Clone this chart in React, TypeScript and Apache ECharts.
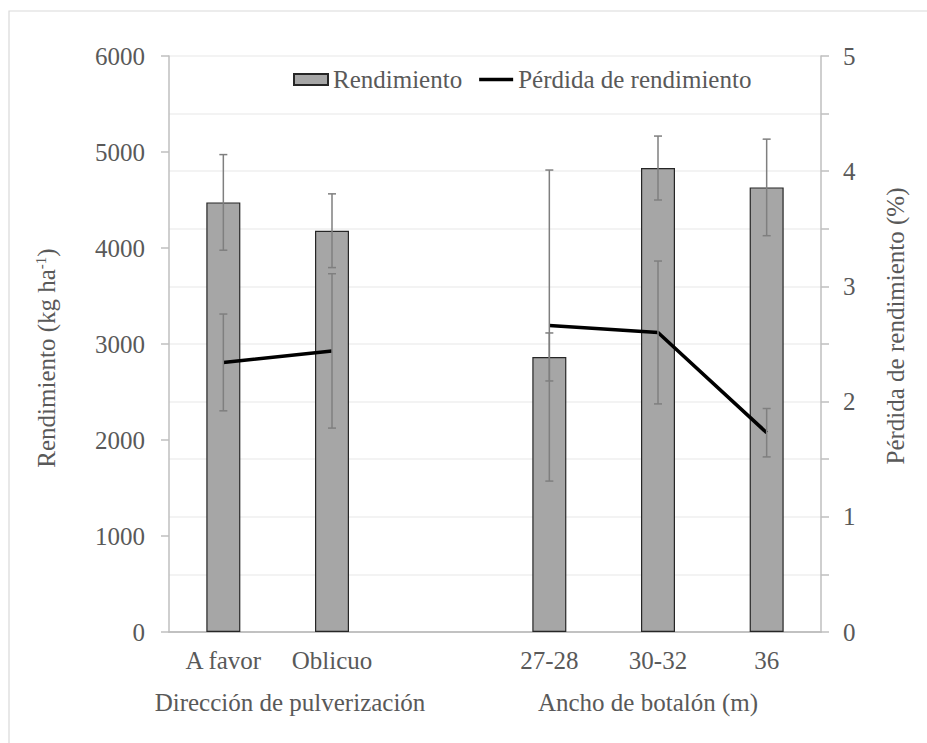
import React, { useEffect, useRef } from "react";
import * as echarts from "echarts";

const categories = ["A favor", "Oblicuo", "", "27-28", "30-32", "36"];
const rendimiento = [4475, 4180, null, 2865, 4833, 4631];
const rendimientoErr = [498, 384, null, 250, 333, 503];
const perdida = [2.34, 2.44, null, 2.66, 2.6, 1.73];
const perdidaErr = [0.42, 0.67, null, 1.35, 0.62, 0.21];
const leftTicks = { min: 0, max: 6000, interval: 1000 };
const rightTicks = { min: 0, max: 5, interval: 0.5 };
const groupLabels = ["Dirección de pulverización", "Ancho de botalón (m)"];

const FONT = "Liberation Serif";
const TXT = "#595959";
const AXIS = "#bfbfbf";

function errData(vals: (number | null)[], errs: (number | null)[]) {
  const out: number[][] = [];
  vals.forEach((v, i) => {
    const e = errs[i];
    if (v !== null && e !== null) out.push([i, v - e, v + e]);
  });
  return out;
}

function errRender(params: any, api: any) {
  const x = api.value(0);
  const lo = api.coord([x, api.value(1)]);
  const hi = api.coord([x, api.value(2)]);
  const cap = 4;
  const st = { stroke: "#7f7f7f", lineWidth: 1.5 };
  return {
    type: "group",
    children: [
      { type: "line", shape: { x1: lo[0], y1: lo[1], x2: hi[0], y2: hi[1] }, style: st },
      { type: "line", shape: { x1: lo[0] - cap, y1: lo[1], x2: lo[0] + cap, y2: lo[1] }, style: st },
      { type: "line", shape: { x1: hi[0] - cap, y1: hi[1], x2: hi[0] + cap, y2: hi[1] }, style: st },
    ],
  };
}

function centeredText(text: string, x: number, y: number, rotation = 0) {
  return {
    type: "text",
    x,
    y,
    rotation,
    style: {
      text,
      fontSize: 25,
      fontFamily: FONT,
      fill: TXT,
      align: "center",
      verticalAlign: "middle",
      textAlign: "center",
      textVerticalAlign: "middle",
    },
  };
}

export default function App() {
  const ref = useRef<HTMLDivElement>(null);
  useEffect(() => {
    if (!ref.current) return;
    const chart = echarts.init(ref.current, null, { renderer: "svg" });
    chart.setOption({
      animation: false,
      backgroundColor: "#ffffff",
      textStyle: { fontFamily: FONT },
      grid: { left: 169, right: 106, top: 56, bottom: 111, containLabel: false },
      legend: {
        left: 288,
        top: 62,
        itemWidth: 34,
        itemHeight: 11,
        itemGap: 17,
        symbolKeepAspect: true,
        textStyle: { fontSize: 25, color: TXT, fontFamily: FONT },
        data: [
          { name: "Rendimiento", icon: "rect" },
          { name: "Pérdida de rendimiento", icon: "path://M0,0L34,0L34,3.5L0,3.5Z" },
        ],
      },
      xAxis: [
        {
          type: "category",
          data: categories,
          axisLine: { lineStyle: { color: AXIS, width: 1.5 } },
          axisTick: { show: false },
          axisLabel: { fontSize: 25, color: TXT, fontFamily: FONT, margin: 16, interval: 0 },
          splitLine: { show: false },
        },
        {
          type: "category",
          data: categories,
          position: "top",
          axisLine: { lineStyle: { color: AXIS, width: 1.5 } },
          axisTick: { show: false },
          axisLabel: { show: false },
        },
      ],
      yAxis: [
        {
          type: "value",
          min: leftTicks.min,
          max: leftTicks.max,
          interval: leftTicks.interval,
          axisLine: { show: true, lineStyle: { color: AXIS, width: 1.5 } },
          axisTick: { show: true, length: 8, lineStyle: { color: AXIS, width: 1.5 } },
          axisLabel: {
            fontSize: 25,
            color: TXT,
            fontFamily: FONT,
            margin: 24,
            formatter: (v: number) => String(v),
          },
          splitLine: { show: false },
        },
        {
          type: "value",
          position: "right",
          min: rightTicks.min,
          max: rightTicks.max,
          interval: rightTicks.interval,
          axisLine: { show: true, lineStyle: { color: AXIS, width: 1.5 } },
          axisTick: { show: true, length: 8, lineStyle: { color: AXIS, width: 1.5 } },
          axisLabel: {
            fontSize: 25,
            color: TXT,
            fontFamily: FONT,
            margin: 22,
            formatter: (v: number) => (Number.isInteger(v) ? String(v) : ""),
          },
          splitLine: { show: true, lineStyle: { color: "#efefef", width: 1.5 } },
        },
      ],
      series: [
        {
          name: "Rendimiento",
          type: "bar",
          data: rendimiento,
          barWidth: 34,
          itemStyle: { color: "#a6a6a6", borderColor: "#262626", borderWidth: 1.2 },
          z: 2,
        },
        {
          type: "custom",
          data: errData(rendimiento, rendimientoErr),
          renderItem: errRender,
          z: 3,
          silent: true,
        },
        {
          name: "Pérdida de rendimiento",
          type: "line",
          yAxisIndex: 1,
          data: perdida,
          connectNulls: false,
          symbol: "none",
          lineStyle: { color: "#000000", width: 3.5 },
          itemStyle: { color: "#000000" },
          z: 4,
        },
        {
          type: "custom",
          yAxisIndex: 1,
          data: errData(perdida, perdidaErr),
          renderItem: errRender,
          z: 5,
          silent: true,
        },
      ],
      graphic: [
        {
          type: "rect",
          shape: { x: 9, y: 11, width: 1000, height: 800 },
          style: { fill: "none", stroke: "#d9d9d9", lineWidth: 1.2 },
          z: -10,
          silent: true,
        },
        {
          type: "text",
          x: 46,
          y: 358,
          rotation: Math.PI / 2,
          style: {
            text: "{a|Rendimiento (kg ha}{s|-1}{a|)}",
            align: "center",
            verticalAlign: "middle",
            textAlign: "center",
            textVerticalAlign: "middle",
            rich: {
              a: { fontSize: 25, fill: TXT, fontFamily: FONT, verticalAlign: "bottom" },
              s: { fontSize: 15, fill: TXT, fontFamily: FONT, verticalAlign: "top" },
            },
          },
        },
        centeredText("Pérdida de rendimiento (%)", 895, 326, Math.PI / 2),
        centeredText(groupLabels[0], 290, 702),
        centeredText(groupLabels[1], 648, 702),
      ],
    });
    return () => chart.dispose();
  }, []);
  return (
    <div
      ref={ref}
      style={{ position: "absolute", left: 0, top: 0, width: 927, height: 743 }}
    />
  );
}
